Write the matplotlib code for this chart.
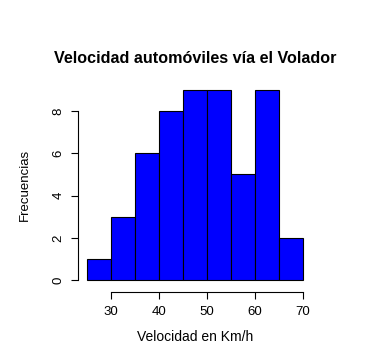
import matplotlib
matplotlib.use("Agg")
import matplotlib.pyplot as plt
import numpy as np

plt.rcParams['font.family'] = ['Liberation Sans', 'DejaVu Sans']

# histogram bins and counts
bin_edges = [25, 30, 35, 40, 45, 50, 55, 60, 65, 70]
counts = [1, 3, 6, 8, 9, 9, 5, 9, 2]
x_ticks = [30, 40, 50, 60, 70]
y_ticks = [0, 2, 4, 6, 8]

fig = plt.figure(figsize=(3.72, 3.53), dpi=100)
ax = fig.add_axes([0.211, 0.185, 0.627, 0.582])

lefts = np.array(bin_edges[:-1])
widths = np.diff(bin_edges)
ax.bar(lefts, counts, width=widths, align='edge', color='#0000ff',
       edgecolor='black', linewidth=0.8)

ax.set_xlim(23.2, 71.8)
ax.set_ylim(-0.36, 9.36)

for s in ['top', 'right']:
    ax.spines[s].set_visible(False)
ax.spines['left'].set_bounds(0, 8)
ax.spines['bottom'].set_bounds(30, 70)
ax.spines['bottom'].set_position(('outward', 3))
for s in ['left', 'bottom']:
    ax.spines[s].set_linewidth(0.8)

ax.set_xticks(x_ticks)
ax.set_yticks(y_ticks)
ax.tick_params(axis='both', length=5, width=0.8, labelsize=9.5, pad=5)
plt.setp(ax.get_yticklabels(), rotation=90, va='center')

ax.set_title('Velocidad automóviles vía el Volador', fontsize=11.6,
             fontweight='bold', pad=14)
ax.set_xlabel('Velocidad en Km/h', fontsize=10, labelpad=9)
ax.set_ylabel('Frecuencias', fontsize=9.5, labelpad=16)

fig.savefig('out.png', dpi=100)
